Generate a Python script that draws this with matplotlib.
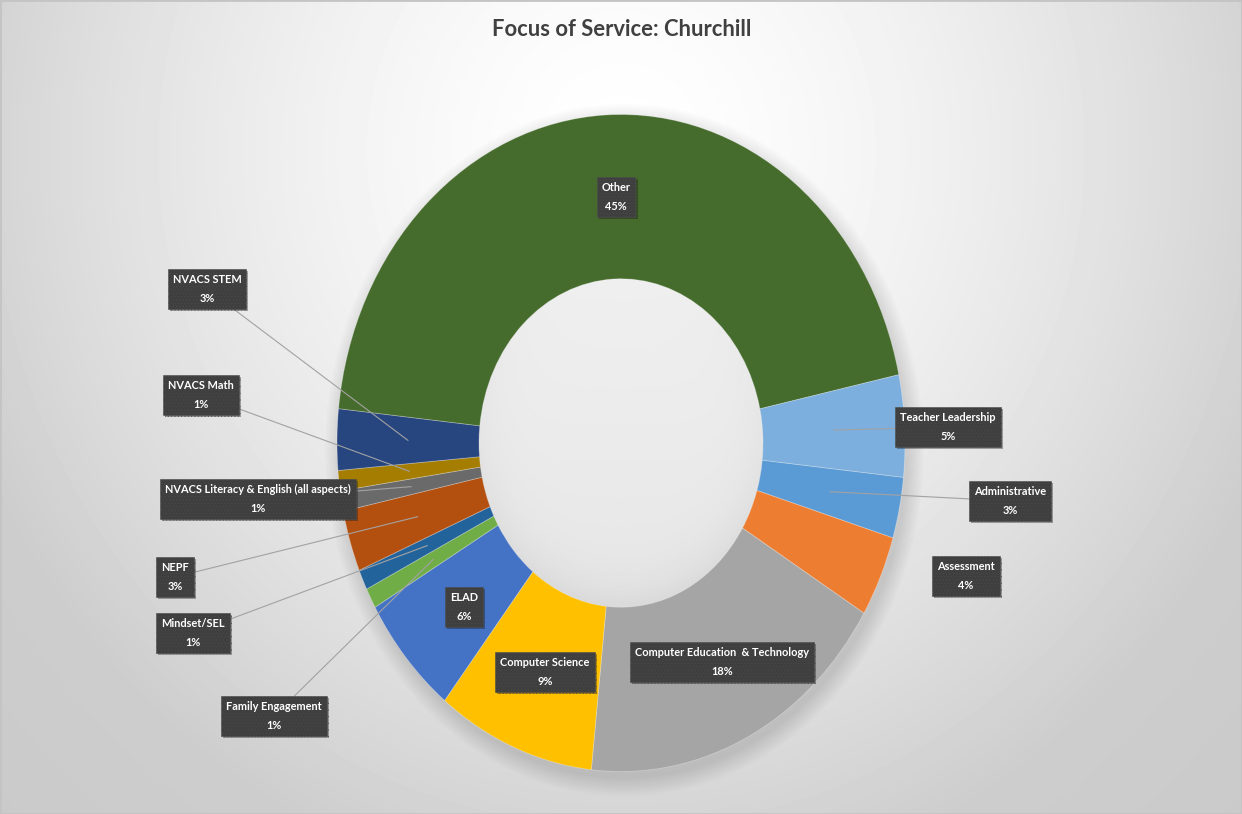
import numpy as np
import matplotlib
matplotlib.use("Agg")
import matplotlib.pyplot as plt
from matplotlib.patches import Circle, Rectangle
from matplotlib import patheffects as pe

# Focus-of-service shares (percent), in sheet order
categories = [
    "Administrative",
    "Assessment",
    "Computer Education  & Technology",
    "Computer Science",
    "ELAD",
    "Family Engagement",
    "Mindset/SEL",
    "NEPF",
    "NVACS Literacy & English (all aspects)",
    "NVACS Math",
    "NVACS STEM",
    "Other",
    "Teacher Leadership",
]
shares = [3, 4, 18, 9, 6, 1, 1, 3, 1, 1, 3, 45, 5]
colors = ["#5B9BD5", "#ED7D31", "#A5A5A5", "#FFC000", "#4472C4", "#70AD47",
          "#22639C", "#B4500F", "#6A6A6A", "#A57D00", "#27457E", "#466C2D",
          "#7CAFDD"]
title = "Focus of Service: Churchill"

plt.rcParams["font.family"] = ["Lato", "DejaVu Sans"]
plt.rcParams["hatch.linewidth"] = 0.3

W, H = 1242, 814
fig = plt.figure(figsize=(W / 100, H / 100), dpi=100)

# soft radial backdrop
bg = fig.add_axes([0, 0, 1, 1])
bg.set_axis_off()
yy, xx = np.mgrid[0:H, 0:W]
rr = np.hypot((xx - 621) / 700, (yy - 150) / 750)
shade = 255 - 50 * np.minimum(rr, 1) ** 1.5 - 12 * np.clip(rr - 1, 0, None)
bg.imshow(shade / 255, cmap="gray", vmin=0, vmax=1, extent=[0, W, H, 0],
          aspect="auto", interpolation="bilinear")
bg.set_xlim(0, W)
bg.set_ylim(H, 0)

# donut axes (stretched vertically)
cx, cy, rx, ry = 621, 443, 284, 328.5
m = 1.1
ax = fig.add_axes([(cx - rx * m) / W, 1 - (cy + ry * m) / H,
                   2 * rx * m / W, 2 * ry * m / H])
ax.patch.set_alpha(0)

# drop shadow halo
for i in range(10):
    ax.add_patch(Circle((0.012, -0.022), 1.0 + 0.006 * i, fc="black",
                        alpha=0.012, zorder=0, lw=0))

wedges, _ = ax.pie(shares, colors=colors, startangle=-6, counterclock=False,
                   radius=1,
                   wedgeprops=dict(width=0.5, edgecolor=(1, 1, 1, 0.3),
                                   linewidth=0.6))

# shaded hole
n = 200
hy, hx = np.mgrid[0.5:-0.5:n * 1j, -0.5:0.5:n * 1j]
hr = np.hypot(hx, hy) / 0.5
hole = 0.92 + 0.035 * hy - 0.05 * np.clip(hr, 0, 1) ** 6 * (0.5 - hy)
im = ax.imshow(hole, cmap="gray", vmin=0, vmax=1,
               extent=[-0.5, 0.5, -0.5, 0.5], zorder=0.5,
               interpolation="bilinear")
im.set_clip_path(Circle((0, 0), 0.5, transform=ax.transData))

ax.set_aspect("auto")
ax.set_xlim(-m, m)
ax.set_ylim(-m, m)
ax.set_axis_off()

# label box centres in pixels, and whether a leader line is drawn
label_pos = {
    "Administrative": (1010, 501, True),
    "Assessment": (966, 576, False),
    "Computer Education  & Technology": (722, 662, False),
    "Computer Science": (545, 672, False),
    "ELAD": (464, 607, False),
    "Family Engagement": (274, 716, True),
    "Mindset/SEL": (193, 633, True),
    "NEPF": (175, 577, True),
    "NVACS Literacy & English (all aspects)": (258, 499, True),
    "NVACS Math": (201, 395, True),
    "NVACS STEM": (207, 289, True),
    "Other": (616, 197, False),
    "Teacher Leadership": (948, 427, True),
}

box = dict(boxstyle="square,pad=0.45", fc="#3F3F3F", ec="#4C4C4C",
           hatch=".....", lw=0.4)
for w, name, val in zip(wedges, categories, shares):
    px, py, leader = label_pos[name]
    mid = np.deg2rad((w.theta1 + w.theta2) / 2)
    anchor = (0.75 * np.cos(mid), 0.75 * np.sin(mid))
    arrow = (dict(arrowstyle="-", color="#A2A2A2", lw=0.8,
                  shrinkA=0, shrinkB=0) if leader else None)
    ann = ax.annotate(f"{name}\n{val}%", xy=anchor, xycoords="data",
                      xytext=(px / W, 1 - py / H),
                      textcoords="figure fraction",
                      ha="center", va="center", ma="center",
                      fontsize=7.9, fontweight="bold", color="white",
                      linespacing=1.85, bbox=box, arrowprops=arrow,
                      annotation_clip=False, zorder=5)
    ann.get_bbox_patch().set_path_effects(
        [pe.SimplePatchShadow(offset=(1.5, -1.5), alpha=0.35), pe.Normal()])

fig.text(622 / W, 1 - 30 / H, title, ha="center", va="center",
         fontsize=15.8, color="#404040", fontweight="bold")

fig.patches.append(Rectangle((0, 0), 1, 1, transform=fig.transFigure,
                             fill=False, ec="#C4C4C4", lw=2))

fig.savefig("out.png", dpi=100)
